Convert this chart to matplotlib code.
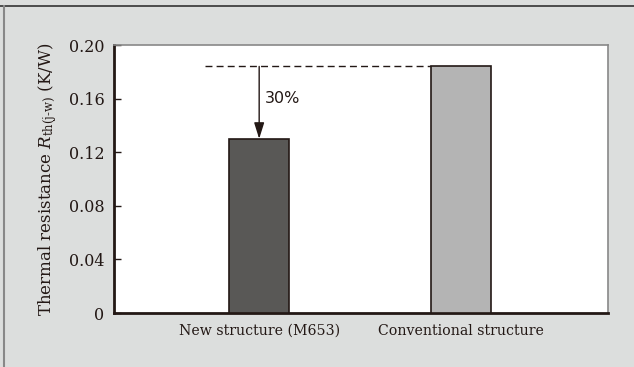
import matplotlib.pyplot as plt
from matplotlib.lines import Line2D

categories = ["New structure (M653)", "Conventional structure"]
resistance = [0.130, 0.184]
bar_colors = ["#595856", "#b4b4b4"]
yticks = [0, 0.04, 0.08, 0.12, 0.16, 0.20]
ytick_labels = ["0", "0.04", "0.08", "0.12", "0.16", "0.20"]
reduction_label = "30%"

plt.rcParams['font.family'] = ['DejaVu Serif']
plt.rcParams['mathtext.fontset'] = 'dejavuserif'

fig = plt.figure(figsize=(6.34, 3.67), dpi=100)
fig.patch.set_facecolor("#dcdedd")

# outer frame (top and left edges)
fig.add_artist(Line2D([0, 1], [1 - 5.5 / 367] * 2, color="#333333", lw=1.2))
fig.add_artist(Line2D([3.5 / 634] * 2, [0, 1 - 5.5 / 367], color="#888888", lw=1.5))

ax = fig.add_axes([114 / 634, 1 - 313 / 367, (608 - 114) / 634, (313 - 45) / 367])
ax.set_facecolor("white")

x = list(range(len(categories)))
ax.bar(x, resistance, width=0.3, color=bar_colors, edgecolor="#231815", linewidth=1.2, zorder=3)

ax.set_xlim(-0.72, 1.73)
ax.set_ylim(0, 0.20)
ax.set_yticks(yticks)
ax.set_yticklabels(ytick_labels, fontsize=11.5, color="#231815")
ax.set_xticks(x)
ax.set_xticklabels(categories, fontsize=10.2, color="#231815")
ax.tick_params(axis="y", direction="in", length=5, width=1, color="#231815", pad=7)
ax.tick_params(axis="x", length=0, pad=8)

for side in ["left", "bottom"]:
    ax.spines[side].set_color("#231815")
    ax.spines[side].set_linewidth(2)
for side in ["top", "right"]:
    ax.spines[side].set_color("#888888")
    ax.spines[side].set_linewidth(1.2)

ax.set_ylabel(r"Thermal resistance $R_{\mathrm{th(j\text{-}w)}}$ (K/W)", fontsize=12,
              color="#231815", labelpad=7)

# reference dashed line and reduction arrow
ax.plot([-0.27, 1 - 0.15], [resistance[1], resistance[1]], ls=(0, (5, 3)), color="#231815", lw=1, zorder=2)
ax.annotate("", xy=(0, resistance[0]), xytext=(0, resistance[1]),
            arrowprops=dict(arrowstyle="-|>,head_length=0.7,head_width=0.22", color="#231815",
                            lw=1, mutation_scale=14, shrinkA=0, shrinkB=0))
ax.text(0.03, 0.160, reduction_label, fontsize=11.5, color="#231815", va="center", ha="left",
        family="DejaVu Sans")

fig.savefig("out.png", dpi=100, facecolor=fig.get_facecolor())
